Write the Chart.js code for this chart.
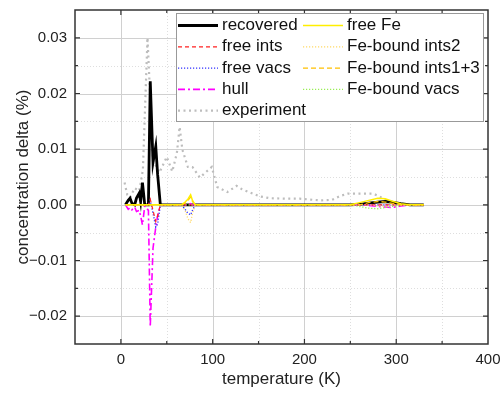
<!DOCTYPE html>
<html>
<head>
<meta charset="utf-8">
<script src="https://cdn.jsdelivr.net/npm/chart.js@4"></script>
<style>
  html, body { margin: 0; padding: 0; background: #fff; }
</style>
</head>
<body>
<canvas id="myChart" width="502" height="394"></canvas>
<script>
// temperature grid of the model curves (K)
const temperature = [5, 8, 10, 12, 15, 17, 20, 21.5, 23.5, 26, 30, 32, 35, 38, 40, 43, 50, 66, 70, 73, 76, 78, 81, 100, 150, 200, 250, 260, 270, 280, 288, 295, 305, 315, 330];

// concentration delta (%)
const recovered = [0, 0.0008, 0.0012, 0.0003, 0, 0.0012, 0.0021, 0.0006, 0.0040, 0, 0, 0.0222, 0.0076, 0.0105, 0.0055, 0, 0, 0, 0, 0, 0, 0, 0, 0, 0, 0, 0, 0.0001, 0.0003, 0.0005, 0.0006, 0.0005, 0.0002, 0, 0];
const freeInts = [0, 0, 0, 0, 0, 0, 0, 0, 0, 0, 0, 0.0010, -0.0010, -0.0030, -0.0020, 0, 0, 0, 0, 0, 0, 0, 0, 0, 0, 0, 0, 0, 0, 0, 0, 0, 0, 0, 0];
const freeVacs = [0, 0, 0, 0, 0, 0, 0, 0, 0, 0, 0, 0.0008, -0.0015, -0.0040, -0.0035, 0, 0, 0, -0.0008, -0.0015, -0.0018, -0.0010, 0, 0, 0, 0, 0, 0, 0, 0, 0, 0, 0, 0, 0];
const hull = [0, -0.0008, -0.0005, -0.0009, -0.0004, -0.0012, -0.0010, -0.0020, -0.0036, -0.0002, -0.0010, -0.0219, -0.0078, -0.0040, -0.0020, 0, 0, 0, 0, 0, 0.0002, 0, 0, 0, 0, 0, 0, 0, -0.0001, -0.0003, -0.0004, -0.0005, -0.0002, 0, 0];
const freeFe = [0, 0, 0, 0, 0, 0, 0, 0, 0, 0, 0, 0, 0, 0, 0, 0, 0, 0, 0.0005, 0.0010, 0.0018, 0.0008, 0, 0, 0, 0, 0, 0.0004, 0.0008, 0.0012, 0.0011, 0.0007, 0.0002, 0, 0];
const feBoundInts2 = [0, 0, 0, 0, 0, 0, 0, 0, 0, 0, 0, 0, 0, 0, 0, 0, 0, 0, -0.0010, -0.0025, -0.0032, -0.0015, 0, 0, 0, 0, 0, 0, 0, -0.0002, -0.0003, 0, 0, 0, 0];
const feBoundInts13 = [0, 0, 0, 0, 0, 0, 0, 0, 0, 0, 0, 0, 0, 0, 0, 0, 0, 0, 0.0003, 0.0008, 0.0014, 0.0006, 0, 0, 0, 0, 0, 0, 0.0004, 0.0006, 0.0005, 0.0003, 0, 0, 0];
const feBoundVacs = [0, 0, 0, 0, 0, 0, 0, 0, 0, 0, 0, 0, 0, 0, 0, 0, 0, 0, 0, 0, 0, 0, 0, 0, 0, 0, 0, -0.0003, -0.0006, -0.0007, -0.0005, -0.0003, -0.0001, 0, 0];

// experiment has its own temperatures
const expTemperature = [4, 7, 10, 15, 20, 24, 29, 35, 42, 50, 56, 61, 64, 67, 73, 78, 86, 99, 105, 116, 126, 132, 141, 152, 162, 180, 195, 217, 230, 239, 247, 260, 275, 282, 290];
const experiment = [0.0040, 0.0018, 0.0013, 0.0030, 0.0025, 0.0063, 0.0300, 0.0080, 0.0058, 0.0086, 0.0060, 0.0093, 0.0140, 0.0099, 0.0068, 0.0068, 0.0049, 0.0068, 0.0032, 0.0023, 0.0034, 0.0028, 0.0022, 0.0015, 0.0012, 0.0011, 0.0011, 0.0008, 0.0009, 0.0016, 0.0020, 0.0020, 0.0020, 0.0015, 0.0007];

// axis ticks
const xMin = -50, xMax = 400, xStep = 50;
const yMin = -0.025, yMax = 0.035, yStep = 0.005;

// legend columns (labels)
const legendCol1 = ['recovered', 'free ints', 'free vacs', 'hull', 'experiment'];
const legendCol2 = ['free Fe', 'Fe-bound ints2', 'Fe-bound ints1+3', 'Fe-bound vacs'];

function pts(xs, ys) {
    return xs.map((x, i) => ({ x: x, y: ys[i] }));
}

function ds(label, xs, ys, color, width, dash, order) {
    return {
        label: label,
        data: pts(xs, ys),
        borderColor: color,
        backgroundColor: color,
        borderWidth: width,
        borderDash: dash,
        pointRadius: 0,
        tension: 0,
        fill: false,
        order: order
    };
}

const datasets = [
    ds('recovered', temperature, recovered, '#000000', 2.8, [], 5),
    ds('free ints', temperature, freeInts, '#ff2020', 1.2, [4, 3], 3),
    ds('free vacs', temperature, freeVacs, '#3030ff', 1.4, [1.2, 1.8], 3),
    ds('hull', temperature, hull, '#ff00ff', 1.6, [7, 3, 2, 3], 4),
    ds('experiment', expTemperature, experiment, '#bdbdbd', 2.2, [2, 3.5], 9),
    ds('free Fe', temperature, freeFe, '#ffee00', 1.5, [], 1),
    ds('Fe-bound ints2', temperature, feBoundInts2, '#ffd966', 1.3, [1.2, 1.8], 2),
    ds('Fe-bound ints1+3', temperature, feBoundInts13, '#ffc000', 1.3, [5, 3], 2),
    ds('Fe-bound vacs', temperature, feBoundVacs, '#99ee55', 1.3, [1.2, 1.8], 2)
];

const FONT = '"Liberation Sans", Arial, sans-serif';

// grid: solid major, dotted minor
const gridPlugin = {
    id: 'grid',
    beforeDatasetsDraw(chart) {
        const { ctx, chartArea: a, scales: { x, y } } = chart;
        ctx.save();
        ctx.lineWidth = 1;
        for (let v = xMin + xStep; v < xMax; v += xStep) {
            const px = Math.round(x.getPixelForValue(v)) + 0.5;
            const major = v % 100 === 0;
            ctx.strokeStyle = major ? '#d0d0d0' : '#dedede';
            ctx.setLineDash(major ? [] : [1, 2]);
            ctx.beginPath(); ctx.moveTo(px, a.top); ctx.lineTo(px, a.bottom); ctx.stroke();
        }
        for (let k = 1; k < Math.round((yMax - yMin) / yStep); k++) {
            const v = yMin + k * yStep;
            const py = Math.round(y.getPixelForValue(v)) + 0.5;
            const major = Math.round(v * 1000) % 10 === 0;
            ctx.strokeStyle = major ? '#d0d0d0' : '#dedede';
            ctx.setLineDash(major ? [] : [1, 2]);
            ctx.beginPath(); ctx.moveTo(a.left, py); ctx.lineTo(a.right, py); ctx.stroke();
        }
        ctx.restore();
    },
    afterDatasetsDraw(chart) {
        const { ctx, chartArea: a, scales: { x, y } } = chart;
        ctx.save();
        ctx.strokeStyle = '#333';
        ctx.setLineDash([]);
        // inward ticks on all four sides
        ctx.lineWidth = 1.2;
        for (let v = xMin + xStep; v < xMax; v += xStep) {
            const px = x.getPixelForValue(v);
            const len = v % 100 === 0 ? 5 : 3;
            ctx.beginPath();
            ctx.moveTo(px, a.bottom); ctx.lineTo(px, a.bottom - len);
            ctx.moveTo(px, a.top); ctx.lineTo(px, a.top + len);
            ctx.stroke();
        }
        for (let k = 1; k < Math.round((yMax - yMin) / yStep); k++) {
            const v = yMin + k * yStep;
            const py = y.getPixelForValue(v);
            const len = Math.round(v * 1000) % 10 === 0 ? 5 : 3;
            ctx.beginPath();
            ctx.moveTo(a.left, py); ctx.lineTo(a.left + len, py);
            ctx.moveTo(a.right, py); ctx.lineTo(a.right - len, py);
            ctx.stroke();
        }
        ctx.lineWidth = 1.5;
        ctx.strokeRect(a.left, a.top, a.right - a.left, a.bottom - a.top);

        // legend box
        const bx = 176.5, by = 13.5, bw = 307, bh = 108;
        ctx.fillStyle = '#fff';
        ctx.fillRect(bx, by, bw, bh);
        ctx.strokeStyle = '#999';
        ctx.lineWidth = 1;
        ctx.strokeRect(bx, by, bw, bh);
        ctx.font = '17px ' + FONT;
        ctx.textBaseline = 'middle';
        ctx.fillStyle = '#111';
        const drawCol = (labels, lx, tx) => {
            labels.forEach((lab, i) => {
                const d = chart.data.datasets.find(s => s.label === lab);
                const ly = 25.5 + i * 21.3;
                ctx.save();
                ctx.strokeStyle = d.borderColor;
                ctx.lineWidth = d.borderWidth;
                ctx.setLineDash(d.borderDash);
                ctx.beginPath(); ctx.moveTo(lx, ly); ctx.lineTo(lx + 40, ly); ctx.stroke();
                ctx.restore();
                ctx.fillText(lab, tx, ly);
            });
        };
        drawCol(legendCol1, 178, 222);
        drawCol(legendCol2, 303, 347);
        ctx.restore();
    }
};

function createChart() {
    const ctx = document.getElementById('myChart').getContext('2d');
    new Chart(ctx, {
        type: 'line',
        data: { datasets: datasets },
        plugins: [gridPlugin],
        options: {
            responsive: false,
            animation: false,
            layout: { padding: { top: 10, right: 14, left: 0, bottom: 0 } },
            plugins: { legend: { display: false }, tooltip: { enabled: false } },
            scales: {
                x: {
                    type: 'linear',
                    min: xMin,
                    max: xMax,
                    grid: { display: false, drawTicks: false },
                    border: { display: false },
                    afterFit: s => {
                        s.height = 50;
                        s.paddingLeft = 0;
                        s.paddingRight = 0;
                    },
                    ticks: {
                        stepSize: xStep,
                        autoSkip: false,
                        maxRotation: 0,
                        padding: 7,
                        color: '#222',
                        font: { family: FONT, size: 15 },
                        callback: v => (v % 100 === 0 ? String(v) : '')
                    },
                    title: {
                        display: true,
                        text: 'temperature (K)',
                        color: '#222',
                        font: { family: FONT, size: 17 },
                        padding: { top: 0, bottom: 4 }
                    }
                },
                y: {
                    type: 'linear',
                    min: yMin,
                    max: yMax,
                    grid: { display: false, drawTicks: false },
                    border: { display: false },
                    afterFit: s => {
                        s.width = 75;
                        s.paddingTop = 0;
                        s.paddingBottom = 0;
                    },
                    ticks: {
                        stepSize: yStep,
                        autoSkip: false,
                        padding: 8,
                        color: '#222',
                        font: { family: FONT, size: 15 },
                        callback: v => {
                            const m = Math.round(v * 1000);
                            if (m % 10 !== 0) return '';
                            const s = Math.abs(v).toFixed(2);
                            return m < 0 ? '\u2212' + s : s;
                        }
                    },
                    title: {
                        display: true,
                        text: 'concentration delta (%)',
                        color: '#222',
                        font: { family: FONT, size: 17 },
                        padding: { top: 13, bottom: 0 }
                    }
                }
            }
        }
    });
}

document.addEventListener('DOMContentLoaded', createChart);
</script>
</body>
</html>
